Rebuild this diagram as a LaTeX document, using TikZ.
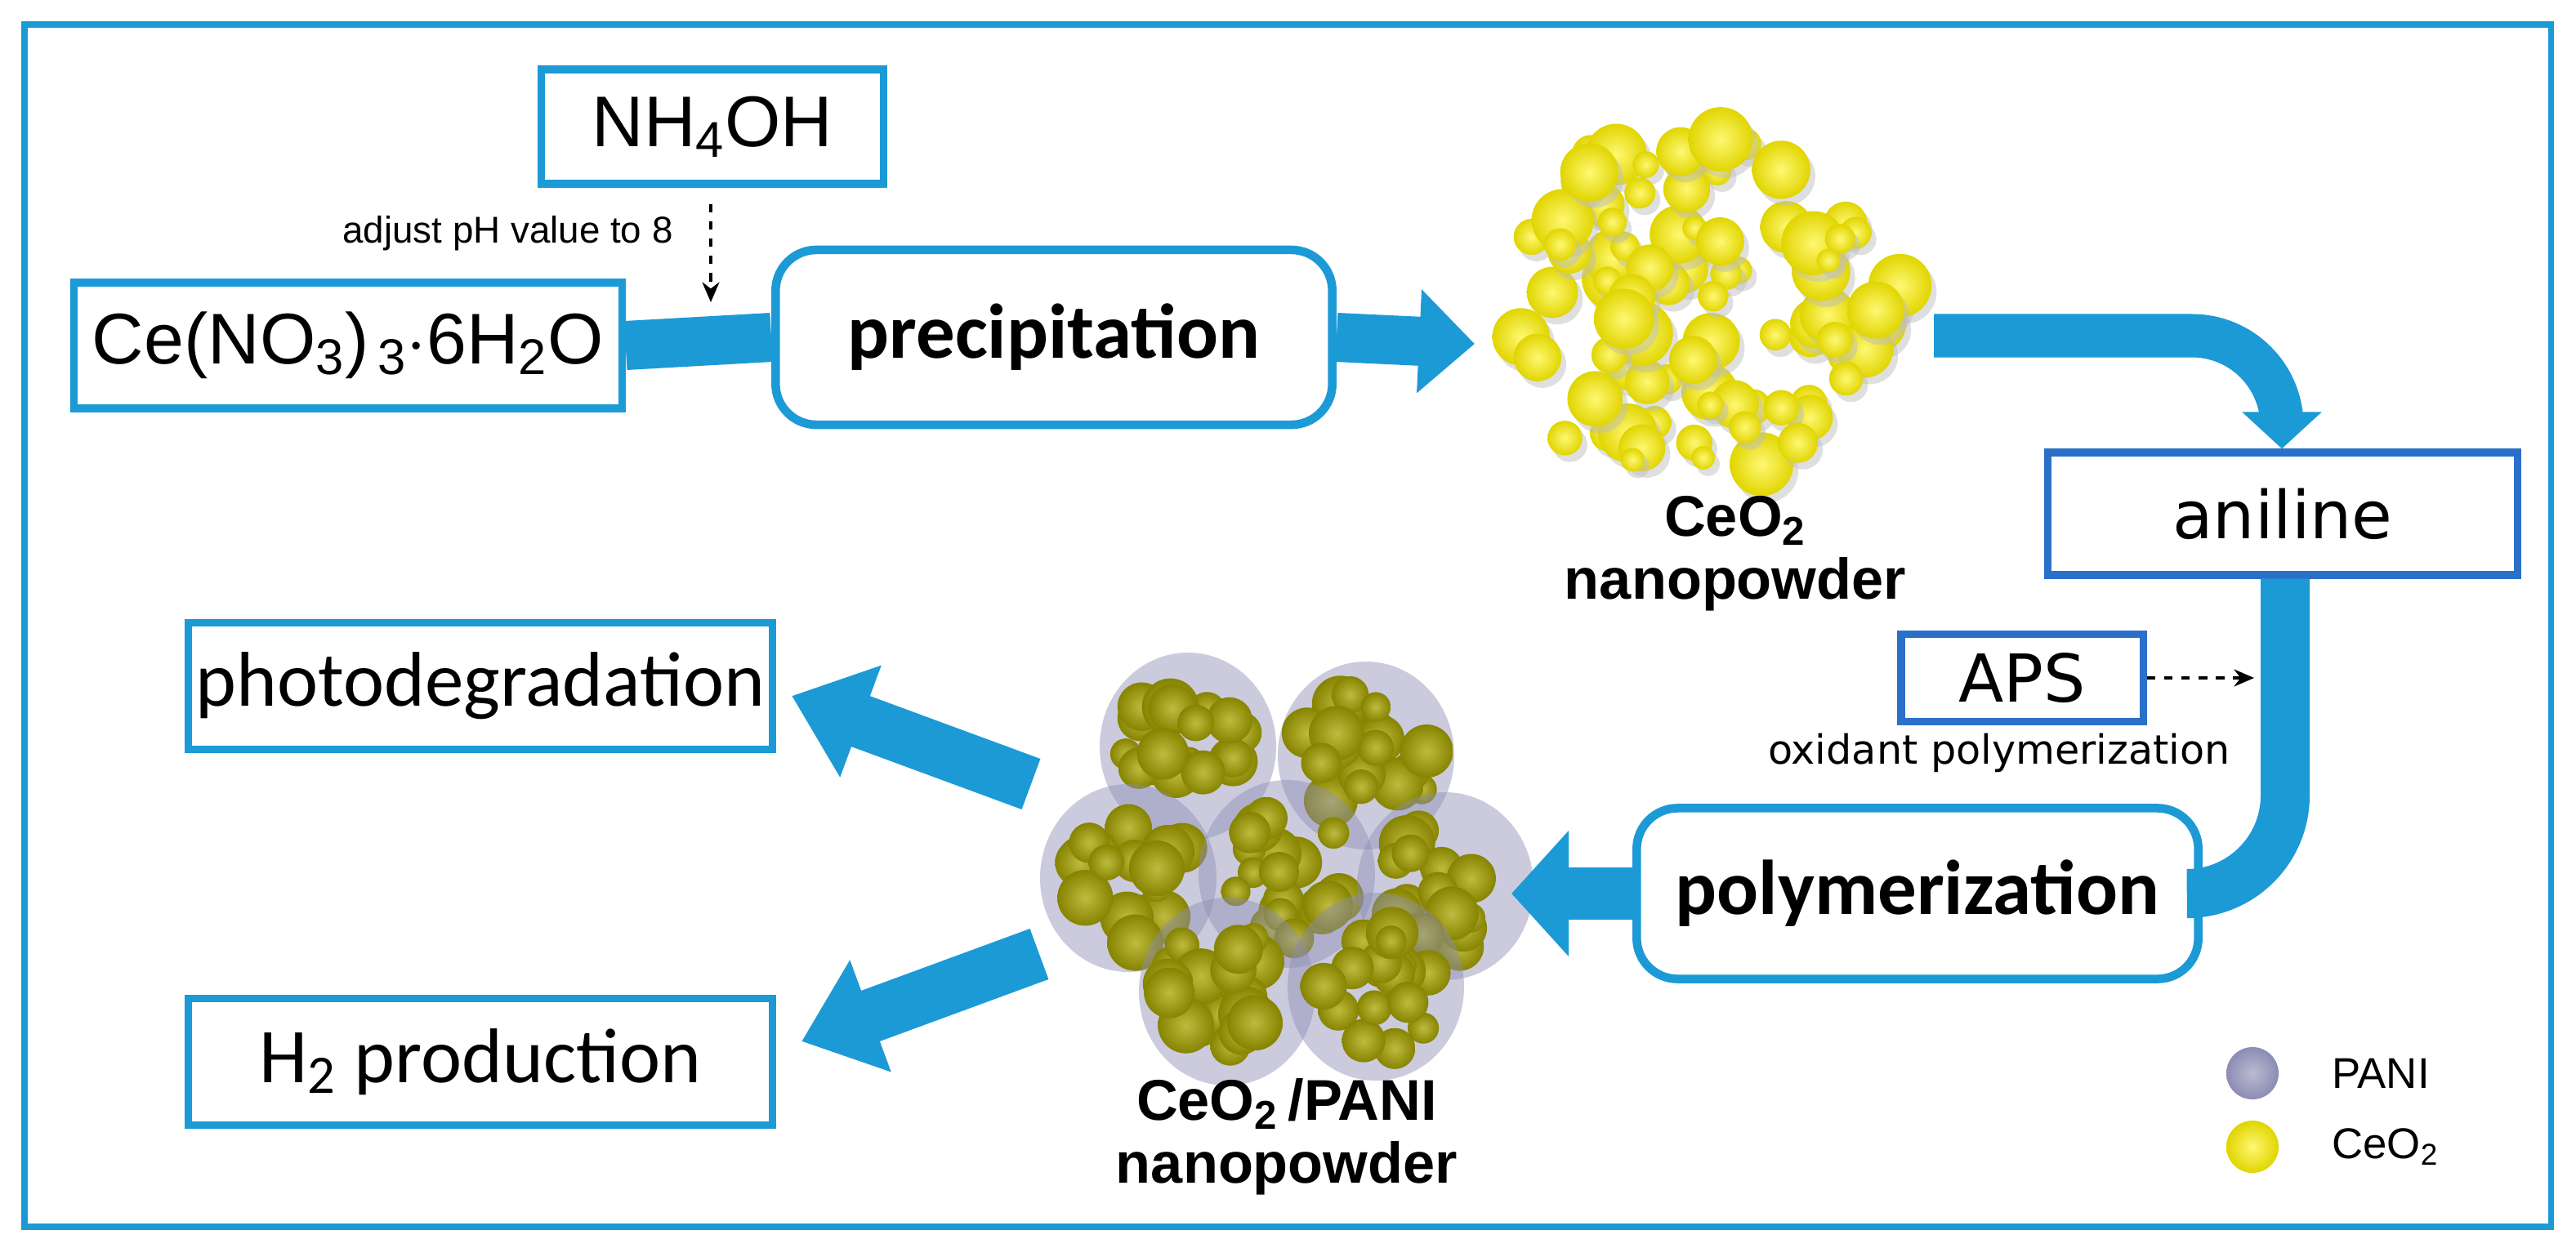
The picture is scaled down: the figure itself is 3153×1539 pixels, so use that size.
\documentclass[tikz,border=0pt]{standalone}
\usepackage{fontspec}
\setmainfont{Carlito}
\newfontfamily\labfont{Liberation Sans}
\newfontfamily\boxfont{DejaVu Sans}
\usetikzlibrary{arrows.meta,positioning,calc}
\definecolor{flowblue}{HTML}{1C9AD6}
\definecolor{deepblue}{HTML}{2A70C8}
\definecolor{ceyellow}{HTML}{FFF200}
\definecolor{olivece}{HTML}{A8A400}
\definecolor{panigrey}{HTML}{8C8CB4}

\begin{document}
\begin{tikzpicture}[x=0.01cm,y=-0.01cm,
    stepbox/.style={draw=flowblue,line width=2.6pt,fill=white,inner sep=0pt,align=center},
    roundbox/.style={stepbox,rounded corners=0.5cm,line width=3pt},
    darkbox/.style={stepbox,draw=deepblue},
    band/.style={draw=flowblue,line width=#1,line cap=butt},
    yball/.style={inner color=ceyellow!55!white,outer color=ceyellow!88!black},
    oball/.style={inner color=olivece!75!white,outer color=olivece!80!black},
    dashline/.style={dashed,line width=0.9pt,-{Stealth[length=7pt,width=6pt]}}]

    \useasboundingbox (0,0) rectangle (3153,1539);
    \draw[flowblue,line width=2pt] (30,30) rectangle (3122,1502);

    %% boxes of the upper row
    \node[stepbox,minimum width=4.18cm,minimum height=1.4cm] (nh) at (872,155) {\fontsize{25}{28}\labfont NH\textsubscript{4}OH};
    \node[stepbox,minimum width=6.7cm,minimum height=1.54cm] (ce) at (426,423) {\fontsize{25}{28}\labfont Ce(NO\textsubscript{3})\textsubscript{\,3}$\cdot$6H\textsubscript{2}O};
    \node[roundbox,minimum width=6.81cm,minimum height=2.14cm] (prec) at (1290,413) {\fontsize{27}{30}\selectfont\bfseries precipitation};
    \node[font=\fontsize{13}{15}\labfont,anchor=east] (ph) at (836,286) {adjust pH value to 8};
    \coordinate (phend) at (870,370);
    \draw[dashline] (nh.south -| phend) ++(0,20) coordinate (phstart) -- (phend);

    %% CeO2 nanopowder cluster
    \pgfmathsetseed{11}
    \foreach \i in {1,...,90}{
        \pgfmathsetmacro\ang{rnd*360}
        \pgfmathsetmacro\rad{sqrt(rnd)}
        \pgfmathsetmacro\rr{14+rnd*26}
        \fill[black!25,opacity=0.5] ({2080+250*\rad*cos(\ang)+6},{372+225*\rad*sin(\ang)+8}) circle (\rr);
        \shade[yball] ({2080+250*\rad*cos(\ang)},{372+225*\rad*sin(\ang)}) circle (\rr);
    }
    \coordinate (ceo) at (2080,372);
    \node[font=\fontsize{20}{22}\labfont\bfseries,align=center] (ceolab) at (2124,678) {CeO\textsubscript{2}\\nanopowder};

    %% thick flow arrows
    \draw[band=0.6cm] (ce.east) -- (prec.west);
    \draw[band=0.6cm,-{Triangle[width=1.23cm,length=0.68cm]}] (prec.east) -- (1805,421) coordinate (ceotip);

    %% right column
    \node[darkbox,minimum width=5.74cm,minimum height=1.5cm] (anil) at (2794,629) {\fontsize{23}{26}\boxfont aniline};
    \node[darkbox,minimum width=2.96cm,minimum height=1.07cm] (aps) at (2475,830) {\fontsize{23}{26}\boxfont APS};
    \node[font=\fontsize{14}{16}\boxfont] (oxid) at (2447,922) {oxidant polymerization};
    \node[roundbox,minimum width=6.87cm,minimum height=2.09cm] (poly) at (2347,1094) {\fontsize{27}{30}\selectfont\bfseries polymerization};
    \coordinate (downx) at (2793,0);
    \coordinate (upx) at (2797,0);
    \draw[band=0.53cm,rounded corners=1.1cm,-{Triangle[width=0.95cm,length=0.45cm]}] (2367,411) -| (anil.north -| downx);
    \draw[band=0.6cm,rounded corners=1.2cm] (anil.south -| upx) |- (poly.east);
    \draw[dashline] (aps.east) -- (2759,830);

    %% CeO2/PANI cluster
    \pgfmathsetseed{5}
    \foreach \cx/\cy in {1454/914,1672/925,1381/1075,1575/1070,1769/1085,1502/1214,1684/1208}{
        \fill[panigrey,opacity=0.45] (\cx,\cy) ellipse (108 and 115);
        \foreach \j in {1,...,18}{
            \pgfmathsetmacro\ang{rnd*360}
            \pgfmathsetmacro\rad{sqrt(rnd)*80}
            \pgfmathsetmacro\rr{18+rnd*17}
            \shade[oball] ({\cx+\rad*cos(\ang)},{\cy+\rad*sin(\ang)}) circle (\rr);
        }
    }
    \node[font=\fontsize{20}{22}\labfont\bfseries,align=center] (panilab) at (1575,1392) {CeO\textsubscript{2}\,/PANI\\nanopowder};
    \draw[band=0.64cm,-{Triangle[width=1.5cm,length=0.7cm]}] (poly.west) -- (1850,1094);

    %% applications
    \node[stepbox,minimum width=7.15cm,minimum height=1.55cm] (photo) at (588,840) {\fontsize{27}{30}\selectfont photodegradation};
    \node[stepbox,minimum width=7.15cm,minimum height=1.55cm] (htwo) at (588,1300) {\fontsize{27}{30}\selectfont H\textsubscript{2} production};
    \coordinate (phtail) at (1262,960);
    \coordinate (htail) at (1272,1168);
    \draw[band=0.66cm,-{Triangle[width=1.4cm,length=0.9cm]}] (phtail) -- (969,852);
    \draw[band=0.66cm,-{Triangle[width=1.4cm,length=0.9cm]}] (htail) -- (981,1275);

    %% legend
    \shade[inner color=panigrey!60!white,outer color=panigrey] (2757,1314) circle (32) node[right=0.85cm,font=\fontsize{15}{17}\labfont] (lpani) {PANI};
    \shade[yball] (2757,1404) circle (32) node[right=0.85cm,font=\fontsize{15}{17}\labfont] (lceo) {CeO\textsubscript{2}};

\end{tikzpicture}
\end{document}
